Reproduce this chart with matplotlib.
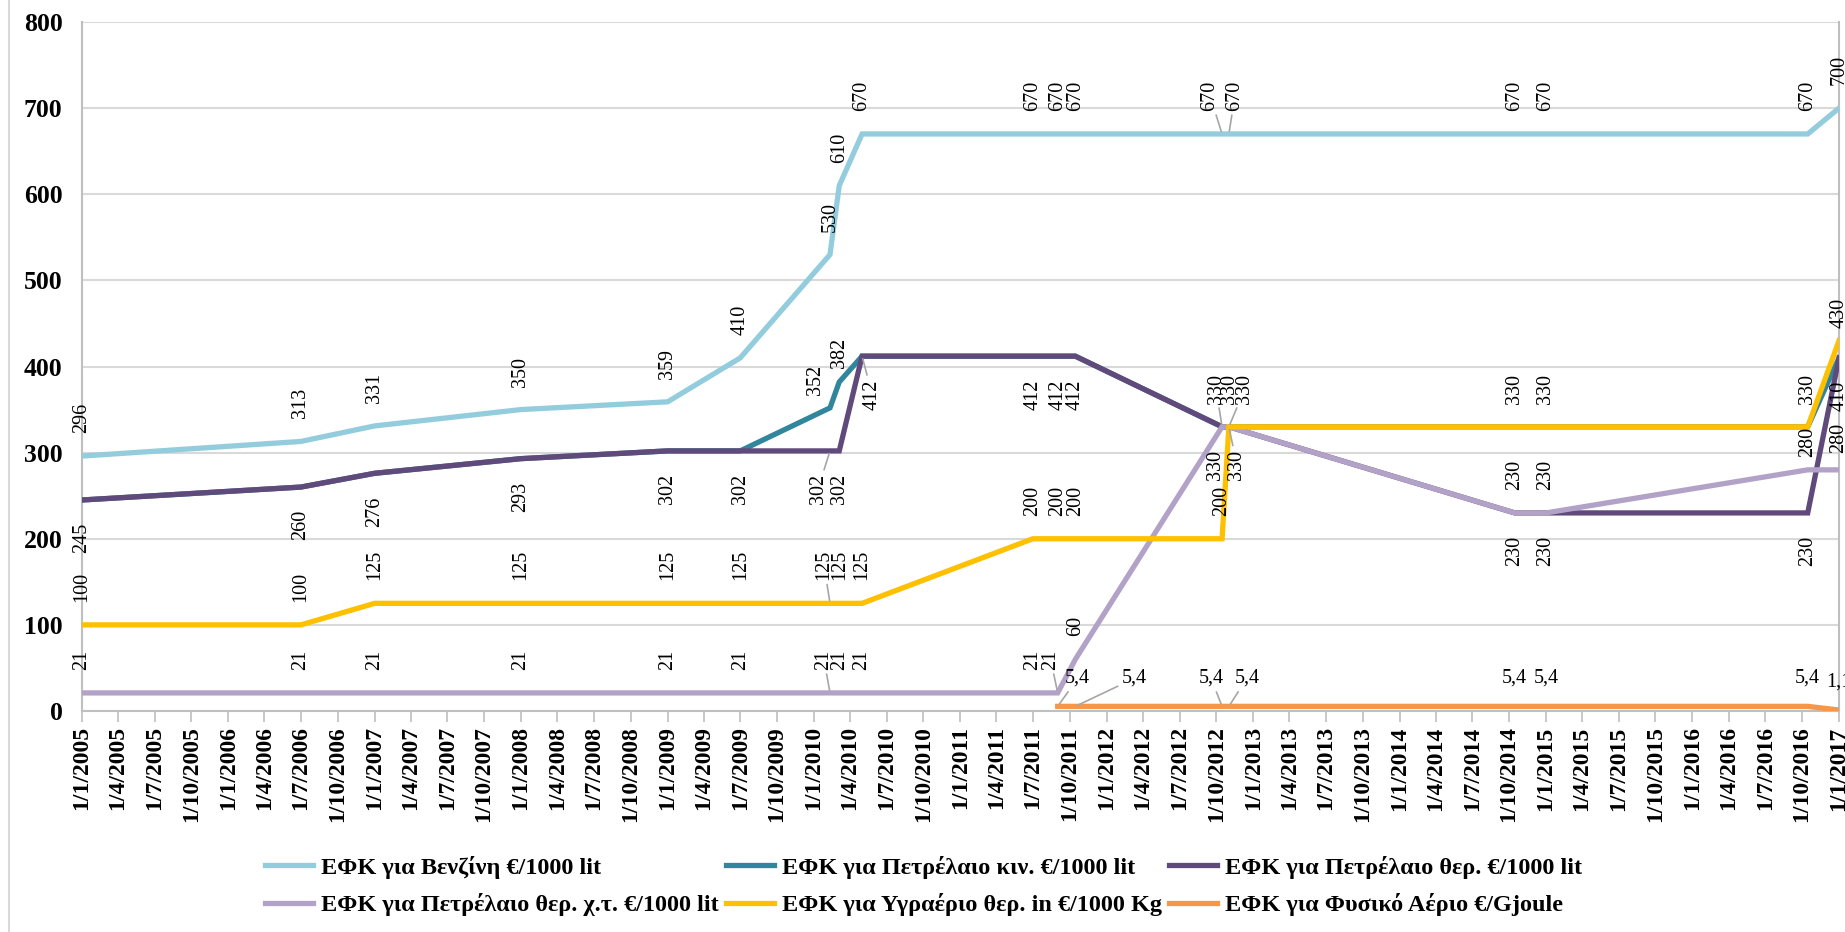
import numpy as np
import pandas as pd
import matplotlib
matplotlib.use("Agg")
from matplotlib import pyplot as plt
import matplotlib.dates as mdates
from matplotlib.lines import Line2D

plt.rcParams['font.family'] = ['Liberation Serif', 'DejaVu Serif']

# dates of the tax changes
dates = ['2005-01-01', '2006-07-01', '2007-01-01', '2008-01-01', '2009-01-01',
         '2009-07-01', '2010-02-10', '2010-03-05', '2010-05-01', '2011-07-01',
         '2011-09-01', '2011-10-15', '2012-10-15', '2012-11-01', '2014-10-15',
         '2015-01-01', '2016-10-15', '2017-01-01']

benzini = [296, 313, 331, 350, 359, 410, 530, 610, 670, 670, 670, 670, 670, 670, 670, 670, 670, 700]
petr_kin = [245, 260, 276, 293, 302, 302, 352, 382, 412, 412, 412, 412, 330, 330, 330, 330, 330, 410]
petr_ther = [245, 260, 276, 293, 302, 302, 302, 302, 412, 412, 412, 412, 330, 330, 230, 230, 230, 410]
petr_ther_xt = [21, 21, 21, 21, 21, 21, 21, 21, 21, 21, 21, 60, 330, 330, 230, 230, 280, 280]
ygraerio = [100, 100, 125, 125, 125, 125, 125, 125, 125, 200, 200, 200, 200, 330, 330, 330, 330, 430]
fysiko = [np.nan] * 10 + [5.4, 5.4, 5.4, 5.4, 5.4, 5.4, 5.4, 1.1]

names = ['ΕΦΚ για Βενζίνη €/1000 lit',
         'ΕΦΚ για Πετρέλαιο κιν. €/1000 lit',
         'ΕΦΚ για Πετρέλαιο θερ. €/1000 lit',
         'ΕΦΚ για Πετρέλαιο θερ. χ.τ. €/1000 lit',
         'ΕΦΚ για Υγραέριο θερ. in €/1000 Kg',
         'ΕΦΚ για Φυσικό Αέριο €/Gjoule']
colors = ['#93CDDD', '#31859C', '#604A7B', '#B3A2C7', '#FFC000', '#F79646']
series = [benzini, petr_kin, petr_ther, petr_ther_xt, ygraerio, fysiko]

# where each series puts its data labels: a = above, b = below, h = horizontal above, '' = none
label_pos = ['a', '', 'b', 'a', 'a', 'h']
kin_labels = [6, 7]  # only the points where diesel differs from heating oil

# hand moved labels (pixels right, up), True -> draw leader line
moved = {
    (0, 12): (-12, 0, True), (0, 13): (6, 0, True),
    (1, 6): (-15, -10, False), (1, 7): (0, -9, False),
    (2, 6): (-12, 0, True), (2, 8): (10, 0, True), (2, 12): (-7, 0, False), (2, 13): (8, 0, True),
    (3, 6): (-6, 0, True), (3, 10): (-7, 0, True), (3, 12): (-6, 0, True), (3, 13): (16, 0, True),
    (3, 16): (0, -10, False), (3, 17): (0, -6, False),
    (4, 6): (-6, 0, True), (4, 13): (1, 0, False), (4, 17): (0, -10, False),
    (5, 10): (20, 0, True), (5, 11): (59, 0, True), (5, 12): (-11, 0, True), (5, 13): (18, 0, True),
}

x = pd.to_datetime(dates)

fig = plt.figure(figsize=(18.45, 9.32), dpi=100)
ax = fig.add_axes([82 / 1845, 1 - 711 / 932, (1839 - 82) / 1845, (711 - 22) / 932])

lines = []
for i, vals in enumerate(series):
    ln, = ax.plot(x, vals, color=colors[i], linewidth=3.8, solid_joinstyle='miter', label=names[i], zorder=3)
    lines.append(ln)

def fmt(v):
    if v == int(v):
        return str(int(v))
    return ('%g' % v).replace('.', ',')

for i, vals in enumerate(series):
    for j, v in enumerate(vals):
        if np.isnan(v):
            continue
        pos = label_pos[i]
        if i == 1:
            if j not in kin_labels:
                continue
            pos = 'a'
        if pos == '':
            continue
        dx, dy, lead = moved.get((i, j), (0, 0, False))
        if pos == 'a':
            off = (dx, 23 + dy)
            kw = dict(rotation=90, ha='center', va='bottom')
        elif pos == 'b':
            off = (dx, -23 + dy)
            kw = dict(rotation=90, ha='center', va='top')
        else:
            off = (dx, 28 + dy)
            kw = dict(rotation=0, ha='center', va='center')
        arrow = None
        if lead:
            arrow = dict(arrowstyle='-', color='#a6a6a6', linewidth=1.2, shrinkA=1, shrinkB=2)
        ax.annotate(fmt(v), (x[j], v), xytext=off, textcoords='offset pixels',
                    fontsize=14.5, color='black', annotation_clip=False,
                    arrowprops=arrow, zorder=5, **kw)

ax.set_xlim(pd.Timestamp('2005-01-01'), pd.Timestamp('2017-01-01'))
ax.set_ylim(0, 800)
ax.set_yticks(np.arange(0, 801, 100))
ax.xaxis.set_major_locator(mdates.MonthLocator(bymonth=[1, 4, 7, 10], bymonthday=1))
ax.xaxis.set_major_formatter(plt.FuncFormatter(
    lambda v, p: '%d/%d/%d' % (mdates.num2date(v).day, mdates.num2date(v).month, mdates.num2date(v).year)))

for lab in ax.get_xticklabels():
    lab.set_rotation(90)
    lab.set_fontweight('bold')
    lab.set_fontsize(17)
for lab in ax.get_yticklabels():
    lab.set_fontweight('bold')
    lab.set_fontsize(18.5)

ax.tick_params(axis='x', direction='out', length=8, width=1.2, color='#bfbfbf', pad=3)
ax.tick_params(axis='y', length=0, pad=14)
ax.grid(axis='y', color='#d9d9d9', linewidth=1.5)
ax.set_axisbelow(True)
for side in ['left', 'bottom', 'right']:
    ax.spines[side].set_color('#bfbfbf')
    ax.spines[side].set_linewidth(1.5)
ax.spines['top'].set_visible(False)

# chart border on the left
fig.add_artist(Line2D([9 / 1845, 9 / 1845], [0, 1], color='#d9d9d9', linewidth=1.5))

# legend filled row by row like the original
order = [0, 3, 1, 4, 2, 5]
fig.legend([lines[k] for k in order], [names[k] for k in order],
           loc='upper left', bbox_to_anchor=(255 / 1845, 1 - 846 / 932), ncol=3, frameon=False,
           prop=dict(weight='bold', size=17.5), handlelength=2.0, handletextpad=0.3,
           columnspacing=0.3, labelspacing=0.6, borderaxespad=0)

fig.savefig('out.png', dpi=100)
